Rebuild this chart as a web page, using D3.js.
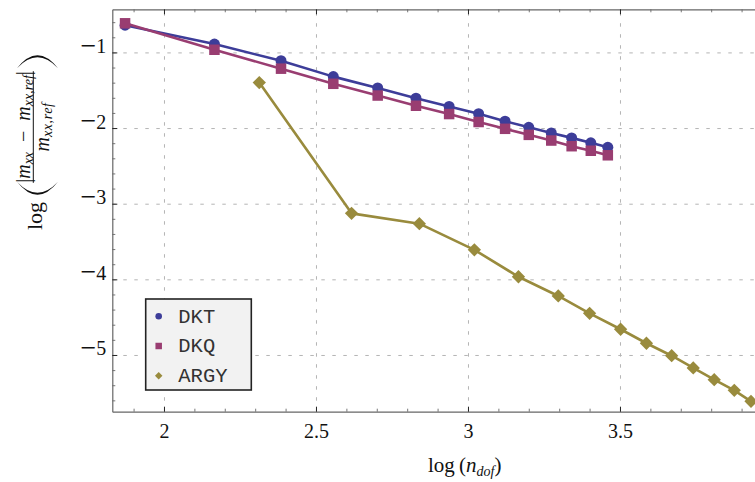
<!DOCTYPE html>
<html>
<head>
<meta charset="utf-8">
<script src="https://cdn.jsdelivr.net/npm/d3@7"></script>
<style>
  html, body { margin: 0; padding: 0; background: #fff; }
  svg { display: block; }
</style>
</head>
<body>
<svg id="chart" width="755" height="482"></svg>
<script>
// ---- data ----
const seriesNames = ["DKT", "DKQ", "ARGY"];
const dktX = [1.872, 2.166, 2.385, 2.557, 2.703, 2.829, 2.938, 3.035, 3.122, 3.200, 3.274, 3.341, 3.404, 3.460];
const dktY = [-0.64, -0.89, -1.11, -1.32, -1.47, -1.605, -1.715, -1.81, -1.91, -1.99, -2.065, -2.13, -2.195, -2.255];
const dkqX = [1.872, 2.166, 2.385, 2.557, 2.703, 2.829, 2.938, 3.035, 3.122, 3.200, 3.274, 3.341, 3.404, 3.460];
const dkqY = [-0.615, -0.965, -1.215, -1.415, -1.57, -1.705, -1.815, -1.92, -2.01, -2.09, -2.165, -2.24, -2.30, -2.36];
const argyX = [2.3135, 2.617, 2.84, 3.021, 3.166, 3.297, 3.40, 3.502, 3.587, 3.67, 3.741, 3.81, 3.876, 3.931];
const argyY = [-1.398, -3.128, -3.264, -3.61, -3.966, -4.22, -4.449, -4.66, -4.845, -5.01, -5.172, -5.327, -5.468, -5.613];
const xTicks = [2, 2.5, 3, 3.5];
const xTickLabels = ["2", "2.5", "3", "3.5"];
const yTicks = [-1, -2, -3, -4, -5];
const yTickLabels = ["1", "2", "3", "4", "5"]; // drawn with a leading minus sign
const xMinorTicks = [1.9, 2.1, 2.2, 2.3, 2.4, 2.6, 2.7, 2.8, 2.9, 3.1, 3.2, 3.3, 3.4, 3.6, 3.7, 3.8, 3.9];
const yMinorTicks = [-0.6, -0.8, -1.2, -1.4, -1.6, -1.8, -2.2, -2.4, -2.6, -2.8, -3.2, -3.4, -3.6, -3.8, -4.2, -4.4, -4.6, -4.8, -5.2, -5.4, -5.6];
const xDomain = [1.83, 3.96];
const yDomain = [-5.75, -0.43];

// ---- layout ----
const L = 112.3, T = 9.3, B = 411.7;
const pxPerX = 304;
const R = L + (xDomain[1] - xDomain[0]) * pxPerX;
const colors = { DKT: "#3d3d99", DKQ: "#993d71", ARGY: "#998b3d" };
const serif = "'Liberation Serif', 'Times New Roman', serif";

const svg = d3.select("#chart");
const x = d3.scaleLinear().domain(xDomain).range([L, R]);
const y = d3.scaleLinear().domain(yDomain).range([B, T]);

// grid
const gridStyle = g => {
  g.select(".domain").remove();
  g.selectAll(".tick line").attr("stroke", "#b4b4b4").attr("stroke-width", 1).attr("stroke-dasharray", "3.5,7.5");
  g.selectAll(".tick text").remove();
};
svg.append("g").attr("transform", `translate(0,${B})`)
  .call(d3.axisBottom(x).tickValues(xTicks).tickSize(-(B - T)).tickFormat(""))
  .call(gridStyle);
svg.append("g").attr("transform", `translate(${L},0)`)
  .call(d3.axisLeft(y).tickValues(yTicks).tickSize(-(R - L)).tickFormat(""))
  .call(gridStyle);

// minor ticks
const minorStyle = g => {
  g.select(".domain").remove();
  g.selectAll(".tick line").attr("stroke", "#777").attr("stroke-width", 1);
};
svg.append("g").attr("transform", `translate(0,${B})`)
  .call(d3.axisBottom(x).tickValues(xMinorTicks).tickSize(-3).tickFormat("")).call(minorStyle);
svg.append("g").attr("transform", `translate(0,${T})`)
  .call(d3.axisTop(x).tickValues(xMinorTicks).tickSize(-3).tickFormat("")).call(minorStyle);
svg.append("g").attr("transform", `translate(${L},0)`)
  .call(d3.axisLeft(y).tickValues(yMinorTicks).tickSize(-3).tickFormat("")).call(minorStyle);

// major axes
const majorStyle = g => {
  g.select(".domain").attr("stroke", "#666").attr("stroke-width", 1.2);
  g.selectAll(".tick line").attr("stroke", "#222").attr("stroke-width", 1);
  g.selectAll(".tick text").style("font-family", serif).style("font-size", "20px").attr("fill", "#111");
};
svg.append("g").attr("transform", `translate(0,${B})`)
  .call(d3.axisBottom(x).tickValues(xTicks).tickSize(-5).tickSizeOuter(0).tickPadding(12)
    .tickFormat((d, i) => xTickLabels[i]))
  .call(majorStyle);
svg.append("g").attr("transform", `translate(0,${T})`)
  .call(d3.axisTop(x).tickValues(xTicks).tickSize(-5).tickSizeOuter(0).tickFormat(""))
  .call(majorStyle);
const yAxisG = svg.append("g").attr("transform", `translate(${L},0)`)
  .call(d3.axisLeft(y).tickValues(yTicks).tickSize(-5).tickSizeOuter(0).tickPadding(6)
    .tickFormat((d, i) => yTickLabels[i]))
  .call(majorStyle);
// wide math minus sign in front of the y labels
yAxisG.selectAll(".tick text").each(function () {
  const t = d3.select(this);
  const digit = t.text();
  t.text("");
  t.append("tspan").style("font-size", "28px").attr("dy", "1.6").text("\u2212");
  t.append("tspan").attr("dy", "-1.6").text(digit);
});

// series
const series = [
  { name: "DKT", xs: dktX, ys: dktY, shape: "circle" },
  { name: "DKQ", xs: dkqX, ys: dkqY, shape: "square" },
  { name: "ARGY", xs: argyX, ys: argyY, shape: "diamond" }
];
const line = d3.line().x(d => x(d[0])).y(d => y(d[1]));
const symbolFor = (shape, big) => {
  if (shape === "circle") return d3.symbol(d3.symbolCircle, big ? Math.PI * 5.5 * 5.5 : Math.PI * 3.3 * 3.3);
  if (shape === "square") return d3.symbol(d3.symbolSquare, big ? 10.5 * 10.5 : 6.5 * 6.5);
  return d3.symbol(d3.symbolDiamond2, big ? 7.5 * 7.5 * 2 : 4.2 * 4.2 * 2);
};
series.forEach(s => {
  const pts = s.xs.map((v, i) => [v, s.ys[i]]);
  const g = svg.append("g");
  g.append("path").datum(pts).attr("d", line)
    .attr("fill", "none").attr("stroke", colors[s.name]).attr("stroke-width", 2.6)
    .attr("stroke-linejoin", "round");
  g.selectAll("path.m").data(pts).join("path").attr("class", "m")
    .attr("transform", d => `translate(${x(d[0])},${y(d[1])})`)
    .attr("d", symbolFor(s.shape, true)())
    .attr("fill", colors[s.name]);
});

// legend
const lg = svg.append("g");
lg.append("rect").attr("x", 145.7).attr("y", 299).attr("width", 105.6).attr("height", 91)
  .attr("fill", "#f2f2f2").attr("stroke", "#222").attr("stroke-width", 1.6);
const rowY = [316.3, 346, 375.7];
series.forEach((s, i) => {
  lg.append("path").attr("transform", `translate(158.7,${rowY[i]})`)
    .attr("d", symbolFor(s.shape, false)()).attr("fill", colors[s.name]);
  lg.append("text").attr("x", 178.3).attr("y", rowY[i] + 6.3)
    .style("font-family", "'Liberation Mono', monospace")
    .style("font-size", "20.5px").attr("fill", "#333").text(s.name);
});

// x axis title
const xt = svg.append("text").attr("x", 428).attr("y", 472)
  .style("font-family", serif).style("font-size", "21px").attr("fill", "#111");
xt.append("tspan").text("log\u2009(");
xt.append("tspan").style("font-style", "italic").text("n");
xt.append("tspan").style("font-style", "italic").style("font-size", "14px").attr("dy", 4).text("dof");
xt.append("tspan").attr("dy", -4).text(")");

// y axis title (rotated)
const yt = svg.append("g").attr("transform", "translate(42,230) rotate(-90)")
  .style("font-family", serif).attr("fill", "#111");
yt.append("text").attr("x", 0).attr("y", 0).style("font-size", "22px").text("log");
const fc = 103;
const num = yt.append("text").attr("x", fc).attr("y", -12.5).attr("text-anchor", "middle").style("font-size", "20px");
num.append("tspan").text("|");
num.append("tspan").style("font-style", "italic").text("m");
num.append("tspan").style("font-style", "italic").style("font-size", "14px").attr("dy", 3).text("xx");
num.append("tspan").attr("dy", -3).text("\u2002\u2212\u2002");
num.append("tspan").style("font-style", "italic").text("m");
num.append("tspan").style("font-style", "italic").style("font-size", "14px").attr("dy", 3).text("xx,ref");
num.append("tspan").attr("dy", -3).text("|");
const den = yt.append("text").attr("x", fc).attr("y", 7).attr("text-anchor", "middle").style("font-size", "20px");
den.append("tspan").style("font-style", "italic").text("m");
den.append("tspan").style("font-style", "italic").style("font-size", "14px").style("letter-spacing", "0.6px").attr("dy", 3).text("xx,ref");
const nb = num.node().getBBox();
yt.append("line").attr("x1", nb.x).attr("x2", nb.x + nb.width).attr("y1", -8.7).attr("y2", -8.7)
  .attr("stroke", "#111").attr("stroke-width", 1);
const lp = nb.x - 12, rp = nb.x + nb.width + 3;
yt.append("path").attr("d", `M${lp + 13},-25 Q${lp - 13},-4.5 ${lp + 13},16 Q${lp - 9},-4.5 ${lp + 13},-25Z`).attr("fill", "#111");
yt.append("path").attr("d", `M${rp},-25 Q${rp + 26},-4.5 ${rp},16 Q${rp + 22},-4.5 ${rp},-25Z`).attr("fill", "#111");
</script>
</body>
</html>
